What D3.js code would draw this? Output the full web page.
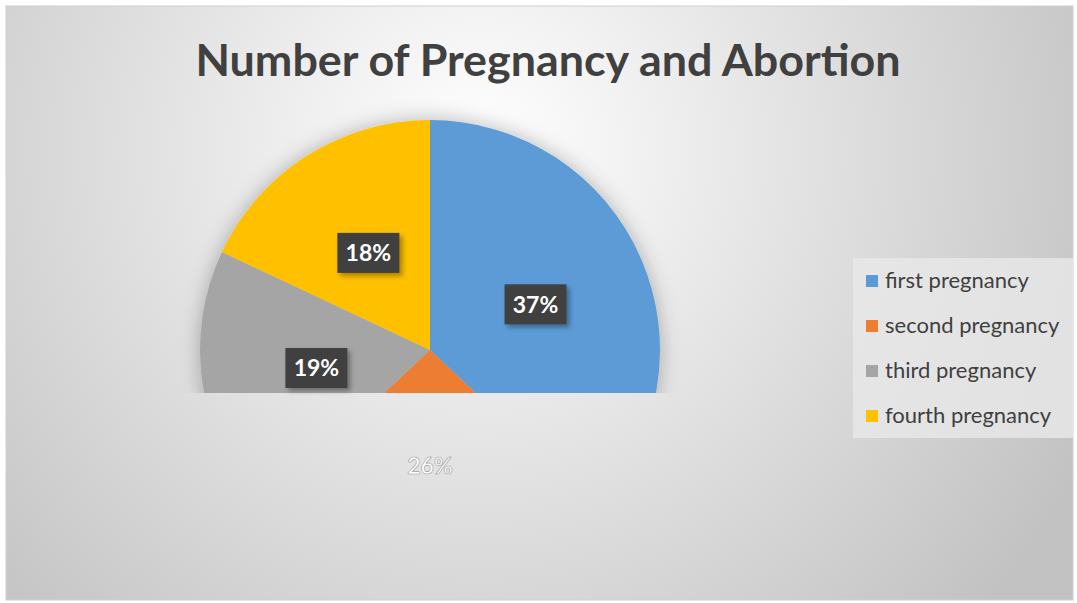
<!DOCTYPE html>
<html>
<head>
<meta charset="utf-8">
<script src="https://cdn.jsdelivr.net/npm/d3@7"></script>
<style>
  body { margin: 0; background: #fff; }
  svg { display: block; }
</style>
</head>
<body>
<div id="chart"></div>
<script>
// data
const categories = ["first pregnancy", "second pregnancy", "third pregnancy", "fourth pregnancy"];
const values = [37, 26, 19, 18];
const colors = ["#5B9BD5", "#ED7D31", "#A5A5A5", "#FFC000"];
const title = "Number of Pregnancy and Abortion";

const width = 1077, height = 603;
const cx = 430, cy = 350, radius = 230;
const floorY = 393; // pie is cut off here

const svg = d3.select("#chart").append("svg")
    .attr("width", width)
    .attr("height", height);

const defs = svg.append("defs");

// background gradient
const bg = defs.append("radialGradient")
    .attr("id", "bg")
    .attr("gradientUnits", "userSpaceOnUse")
    .attr("cx", 480).attr("cy", 150).attr("r", 680);
bg.append("stop").attr("offset", "0").attr("stop-color", "#ffffff");
bg.append("stop").attr("offset", "0.25").attr("stop-color", "#f0f0f0");
bg.append("stop").attr("offset", "1").attr("stop-color", "#c2c2c2");

// soft shadow for pie
const sh = defs.append("filter").attr("id", "pieShadow")
    .attr("x", "-30%").attr("y", "-30%").attr("width", "160%").attr("height", "160%");
sh.append("feDropShadow").attr("dx", 0).attr("dy", 0)
    .attr("stdDeviation", 10).attr("flood-color", "#000").attr("flood-opacity", 0.28);

// shadow for label boxes
const lsh = defs.append("filter").attr("id", "boxShadow")
    .attr("x", "-30%").attr("y", "-30%").attr("width", "160%").attr("height", "160%");
lsh.append("feDropShadow").attr("dx", 3).attr("dy", 3)
    .attr("stdDeviation", 2.5).attr("flood-color", "#000").attr("flood-opacity", 0.35);

defs.append("clipPath").attr("id", "cut")
    .append("rect").attr("x", 0).attr("y", 0).attr("width", width).attr("height", floorY);

// chart area
svg.append("rect")
    .attr("x", 6).attr("y", 6)
    .attr("width", 1067).attr("height", 594)
    .attr("fill", "url(#bg)")
    .attr("stroke", "#d0d0d0")
    .attr("stroke-width", 1);

// title
svg.append("text")
    .attr("x", 548).attr("y", 76)
    .attr("text-anchor", "middle")
    .attr("font-family", "Lato, 'Open Sans', sans-serif")
    .attr("font-weight", "bold")
    .attr("font-size", 44)
    .attr("fill", "#404040")
    .attr("textLength", 705)
    .attr("lengthAdjust", "spacingAndGlyphs")
    .text(title);

// pie
const pie = d3.pie().sort(null).value(d => d.value);
const arcs = pie(categories.map((c, i) => ({ name: c, value: values[i], color: colors[i] })));
const arc = d3.arc().innerRadius(0).outerRadius(radius);

const pieG = svg.append("g")
    .attr("clip-path", "url(#cut)")
    .append("g")
    .attr("transform", `translate(${cx},${cy})`)
    .attr("filter", "url(#pieShadow)");

pieG.selectAll("path")
    .data(arcs)
    .enter().append("path")
    .attr("d", arc)
    .attr("fill", d => d.data.color);

// data labels
const labelG = svg.append("g").attr("transform", `translate(${cx},${cy})`);
arcs.forEach(d => {
    const [lx, ly] = arc.centroid(d);
    const inside = cy + ly < floorY;
    const g = labelG.append("g").attr("transform", `translate(${lx},${ly})`);
    if (inside) {
        g.append("rect")
            .attr("x", -31).attr("y", -20)
            .attr("width", 62).attr("height", 40)
            .attr("fill", "#404040")
            .attr("filter", "url(#boxShadow)");
    }
    g.append("text")
        .attr("text-anchor", "middle")
        .attr("y", 8.5)
        .attr("font-family", "Lato, 'Open Sans', sans-serif")
        .attr("font-weight", "bold")
        .attr("font-size", 23)
        .attr("fill", "#fff")
        .attr("stroke", inside ? "none" : "#9a9a9a")
        .attr("stroke-width", 0.6)
        .text(d.data.value + "%");
});

// legend
const legend = svg.append("g");
legend.append("rect")
    .attr("x", 853).attr("y", 258)
    .attr("width", 220).attr("height", 180)
    .attr("fill", "#e9e9e9")
    .attr("opacity", 0.8);

const item = legend.selectAll("g.item")
    .data(categories)
    .enter().append("g")
    .attr("class", "item")
    .attr("transform", (d, i) => `translate(866,${281 + i * 45})`);

item.append("rect")
    .attr("x", 0).attr("y", -6)
    .attr("width", 12).attr("height", 12)
    .attr("fill", (d, i) => colors[i]);

item.append("text")
    .attr("x", 19).attr("y", 7)
    .attr("font-family", "Lato, 'Open Sans', sans-serif")
    .attr("font-size", 22)
    .attr("fill", "#404040")
    .text(d => d);
</script>
</body>
</html>
